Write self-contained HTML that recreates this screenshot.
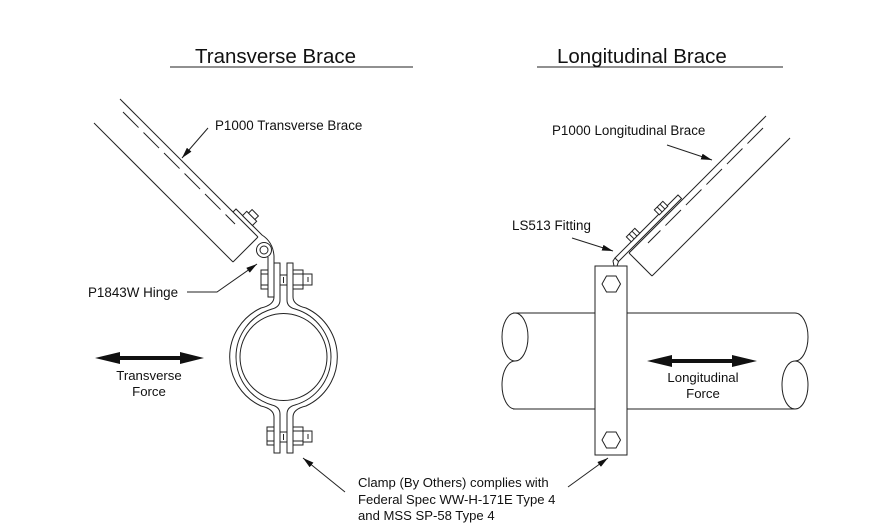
<!DOCTYPE html>
<html><head><meta charset="utf-8"><style>
html,body{margin:0;padding:0;background:#fff;}
svg{display:block;}
text{font-family:"Liberation Sans",Arial,sans-serif;fill:#111;}
</style></head><body>
<svg width="876" height="529" viewBox="0 0 876 529" xmlns="http://www.w3.org/2000/svg">
<defs>
<marker id="ah" markerWidth="11" markerHeight="6" refX="11" refY="3" orient="auto" markerUnits="userSpaceOnUse"><path d="M0,0 L11,3 L0,6 z" fill="#111"/></marker>
</defs>
<g fill="none" stroke="#222" stroke-width="1">
<!-- Titles underline -->
<line x1="170" y1="67" x2="413" y2="67"/>
<line x1="537" y1="67" x2="783" y2="67"/>

<!-- ===== LEFT: Transverse brace ===== -->
<line x1="120" y1="99" x2="258" y2="237"/>
<line x1="94" y1="123" x2="233" y2="262"/>
<line x1="233" y1="262" x2="258" y2="237"/>
<line x1="123" y1="112" x2="235" y2="224" stroke-dasharray="22 7"/>
<!-- plate + hinge ear -->
<path d="M233,212 L236,209 L262,235 Q273,242 274,256 L274,297 L268,297 L268,257"/>
<circle cx="264" cy="250" r="7.5" fill="#fff"/>
<circle cx="264" cy="250" r="4"/>
<!-- nut on plate -->
<g transform="translate(251,217) rotate(45)">
<rect x="-7" y="-1" width="14" height="6" fill="#fff"/>
<rect x="-4.5" y="-6" width="9" height="5" fill="#fff"/>
</g>
<!-- clamp strap -->
<path d="M274,263 L274,297 Q274,305 261,308 A54,54 0 0 0 261,406 Q274,409 274,417 L274,453 L280,453 L280,414 Q280,407 272,405 A50,50 0 0 1 272,309 Q280,307 280,300 L280,263 Z" fill="#fff"/>
<path d="M293,263 L293,297 Q293,305 306,308 A54,54 0 0 1 306,406 Q293,409 293,417 L293,453 L287,453 L287,414 Q287,407 295,405 A50,50 0 0 0 295,309 Q287,307 287,300 L287,263 Z" fill="#fff"/>
<circle cx="283.5" cy="357" r="43.5"/>
<!-- top bolt -->
<rect x="261" y="270" width="7" height="19" fill="#fff"/>
<line x1="261" y1="274" x2="268" y2="274"/><line x1="261" y1="285" x2="268" y2="285"/>
<line x1="280" y1="275" x2="287" y2="275"/><line x1="280" y1="285" x2="287" y2="285"/>
<line x1="283.5" y1="277" x2="283.5" y2="283"/>
<rect x="293" y="270" width="10" height="19" fill="#fff"/>
<line x1="293" y1="274" x2="303" y2="274"/><line x1="293" y1="285" x2="303" y2="285"/>
<rect x="303" y="274" width="9" height="11" fill="#fff"/>
<line x1="308" y1="277" x2="308" y2="282"/>
<!-- bottom bolt -->
<rect x="267" y="427" width="7" height="18" fill="#fff"/>
<line x1="267" y1="431" x2="274" y2="431"/><line x1="267" y1="441" x2="274" y2="441"/>
<line x1="280" y1="432" x2="287" y2="432"/><line x1="280" y1="442" x2="287" y2="442"/>
<line x1="283.5" y1="434" x2="283.5" y2="440"/>
<rect x="293" y="427" width="10" height="18" fill="#fff"/>
<line x1="293" y1="431" x2="303" y2="431"/><line x1="293" y1="441" x2="303" y2="441"/>
<rect x="303" y="431" width="9" height="11" fill="#fff"/>
<line x1="308" y1="434" x2="308" y2="439"/>

<!-- leaders left -->
<line x1="208" y1="128" x2="182" y2="158" marker-end="url(#ah)"/>
<polyline points="187,292 217,292 257,264" marker-end="url(#ah)"/>
<line x1="345" y1="492" x2="303" y2="458" marker-end="url(#ah)"/>
<line x1="568" y1="487" x2="608" y2="458" marker-end="url(#ah)"/>

<!-- ===== RIGHT: Longitudinal brace ===== -->
<line x1="766" y1="116" x2="629" y2="253"/>
<line x1="790" y1="138" x2="652" y2="276"/>
<line x1="652" y1="276" x2="629" y2="253"/>
<line x1="763" y1="128" x2="648" y2="243" stroke-dasharray="22 7"/>
<!-- fitting strip -->
<path d="M615,258 L678,195 L681.5,198.5 L618.5,261.5 Z" fill="#fff"/>
<path d="M615,258 L613,261 L614,266 M618.5,261.5 L617,266"/>
<g transform="translate(632,234) rotate(-45)">
<rect x="-6" y="-2" width="12" height="7" fill="#fff"/>
<line x1="-2" y1="-2" x2="-2" y2="5"/><line x1="2" y1="-2" x2="2" y2="5"/>
</g>
<g transform="translate(660,207) rotate(-45)">
<rect x="-6" y="-2" width="12" height="7" fill="#fff"/>
<line x1="-2" y1="-2" x2="-2" y2="5"/><line x1="2" y1="-2" x2="2" y2="5"/>
</g>
<!-- pipe -->
<line x1="513" y1="313" x2="595" y2="313"/>
<line x1="627" y1="313" x2="795" y2="313"/>
<line x1="513" y1="409" x2="595" y2="409"/>
<line x1="627" y1="409" x2="795" y2="409"/>
<ellipse cx="515" cy="337" rx="13" ry="24"/>
<path d="M515,361 A13,24 0 0 0 515,409"/>
<path d="M795,313 A13,24 0 0 1 795,361"/>
<ellipse cx="795" cy="385" rx="13" ry="24"/>
<!-- bar -->
<rect x="595" y="266" width="32" height="189" fill="#fff"/>
<polygon points="620.5,284 616,292 606.5,292 602,284 606.5,276 616,276"/>
<polygon points="620.5,440 616,448 606.5,448 602,440 606.5,432 616,432"/>
<!-- leaders right -->
<line x1="667" y1="145" x2="712" y2="160" marker-end="url(#ah)"/>
<line x1="572" y1="238" x2="613" y2="251" marker-end="url(#ah)"/>
</g>

<!-- force arrows -->
<path d="M95,358 L120,352 L120,356 L180,356 L180,352 L204,358 L180,364 L180,360 L120,360 L120,364 Z" fill="#111"/>
<path d="M647,361 L672,355 L672,359 L732,359 L732,355 L757,361 L732,367 L732,363 L672,363 L672,367 Z" fill="#111"/>

<!-- text -->
<text x="195" y="63" font-size="20.5">Transverse Brace</text>
<text x="557" y="63" font-size="20.5">Longitudinal Brace</text>
<text x="215" y="130" font-size="13.4">P1000 Transverse Brace</text>
<text x="88" y="297" font-size="13.4">P1843W Hinge</text>
<text x="149" y="380" font-size="13.2" text-anchor="middle">Transverse</text>
<text x="149" y="396" font-size="13.2" text-anchor="middle">Force</text>
<text x="552" y="135" font-size="13.4">P1000 Longitudinal Brace</text>
<text x="512" y="230" font-size="13.4">LS513 Fitting</text>
<text x="703" y="382" font-size="13.2" text-anchor="middle">Longitudinal</text>
<text x="703" y="398" font-size="13.2" text-anchor="middle">Force</text>
<text x="358" y="487" font-size="13.1">Clamp (By Others) complies with</text>
<text x="358" y="504" font-size="13.1">Federal Spec WW-H-171E Type 4</text>
<text x="358" y="520" font-size="13.1">and MSS SP-58 Type 4</text>
</svg>
</body></html>
